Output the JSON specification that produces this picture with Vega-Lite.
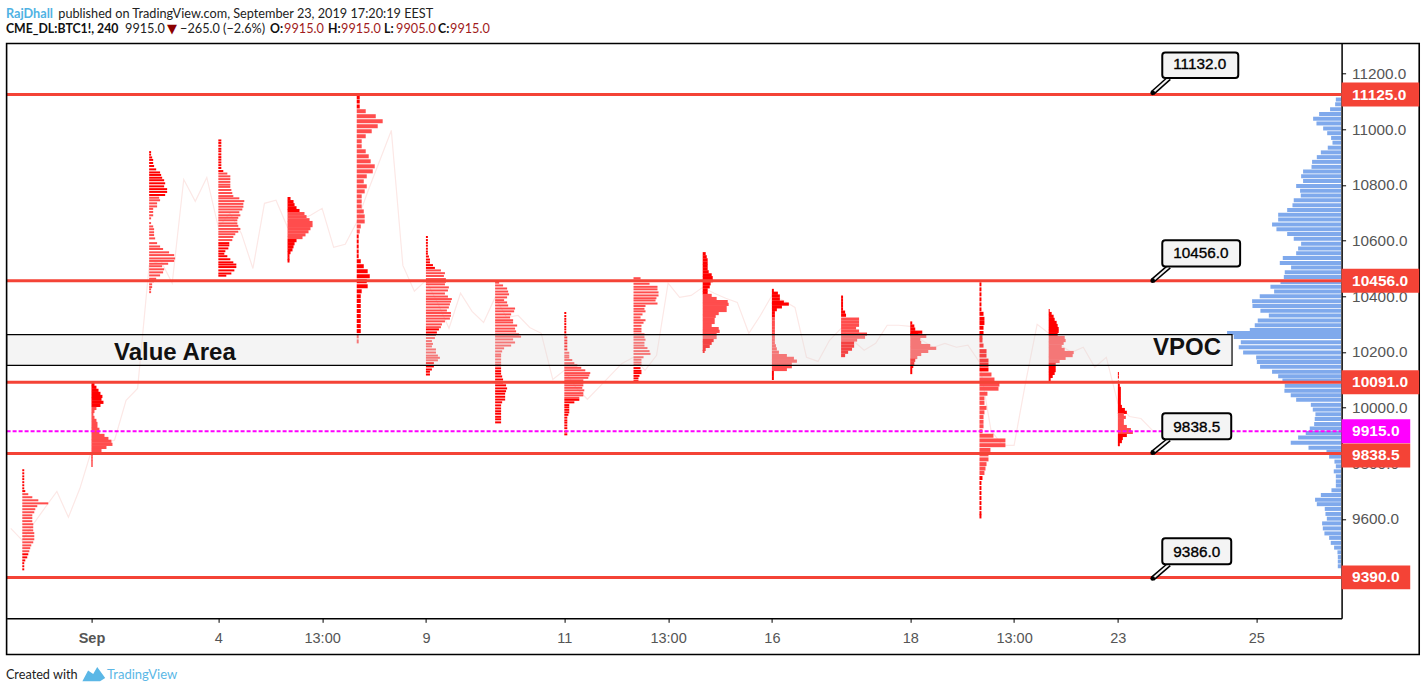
{
"$schema":"https://vega.github.io/schema/vega-lite/v6.json",
"width":1335,"height":575,
"autosize":{"type":"none"},
"padding":{"left":6.6,"top":43.3,"right":84.4,"bottom":72.7},
"background":"#ffffff",
"config":{"view":{"stroke":null}},
"datasets":{
"path":[{"bar":-7,"price":9566},{"bar":-6,"price":9523},{"bar":-5,"price":9584},{"bar":-4,"price":9642},{"bar":-3,"price":9699},{"bar":-2,"price":9606},{"bar":-1,"price":9710},{"bar":0,"price":9846},{"bar":1,"price":9872},{"bar":2,"price":9883},{"bar":3,"price":10026},{"bar":4,"price":10069},{"bar":5,"price":10511},{"bar":6,"price":10529},{"bar":7,"price":10447},{"bar":8,"price":10820},{"bar":9,"price":10741},{"bar":10,"price":10827},{"bar":11,"price":10648},{"bar":12,"price":10698},{"bar":13,"price":10626},{"bar":14,"price":10500},{"bar":15,"price":10734},{"bar":16,"price":10745},{"bar":17,"price":10648},{"bar":18,"price":10673},{"bar":19,"price":10691},{"bar":20,"price":10716},{"bar":21,"price":10576},{"bar":22,"price":10587},{"bar":23,"price":10666},{"bar":24,"price":10781},{"bar":25,"price":10888},{"bar":26,"price":10996},{"bar":27,"price":10511},{"bar":28,"price":10418},{"bar":29,"price":10457},{"bar":30,"price":10378},{"bar":31,"price":10285},{"bar":32,"price":10411},{"bar":33,"price":10346},{"bar":34,"price":10306},{"bar":35,"price":10396},{"bar":36,"price":10324},{"bar":37,"price":10331},{"bar":38,"price":10288},{"bar":39,"price":10267},{"bar":40,"price":10101},{"bar":41,"price":10134},{"bar":42,"price":10073},{"bar":43,"price":10030},{"bar":44,"price":10073},{"bar":45,"price":10116},{"bar":46,"price":10159},{"bar":47,"price":10181},{"bar":48,"price":10134},{"bar":49,"price":10188},{"bar":50,"price":10447},{"bar":51,"price":10396},{"bar":52,"price":10403},{"bar":53,"price":10432},{"bar":54,"price":10411},{"bar":55,"price":10393},{"bar":56,"price":10378},{"bar":57,"price":10267},{"bar":58,"price":10331},{"bar":59,"price":10403},{"bar":60,"price":10385},{"bar":61,"price":10360},{"bar":62,"price":10181},{"bar":63,"price":10166},{"bar":64,"price":10242},{"bar":65,"price":10285},{"bar":66,"price":10242},{"bar":67,"price":10206},{"bar":68,"price":10231},{"bar":69,"price":10296},{"bar":70,"price":10296},{"bar":71,"price":10292},{"bar":72,"price":10242},{"bar":73,"price":10217},{"bar":74,"price":10231},{"bar":75,"price":10217},{"bar":76,"price":10224},{"bar":77,"price":10163},{"bar":78,"price":9918},{"bar":79,"price":9864},{"bar":80,"price":9864},{"bar":81,"price":10091},{"bar":82,"price":10299},{"bar":83,"price":10267},{"bar":84,"price":10224},{"bar":85,"price":10199},{"bar":86,"price":10217},{"bar":87,"price":10145},{"bar":88,"price":10181},{"bar":89,"price":10015},{"bar":90,"price":9968},{"bar":91,"price":9961},{"bar":92,"price":9918}],
"thin":[
{"bar":-6,"to":-5.83,"price":9775},{"bar":-6,"to":-5.83,"price":9764},{"bar":-6,"to":-5.83,"price":9753},{"bar":-6,"to":-5.83,"price":9743},{"bar":-6,"to":-5.83,"price":9732},{"bar":-6,"to":-5.83,"price":9721},{"bar":-6,"to":-5.83,"price":9710},{"bar":-6,"to":-5.74,"price":9700},{"bar":-6,"to":-5.48,"price":9689,"va":1},{"bar":-6,"to":-5.13,"price":9678,"va":1},{"bar":-6,"to":-4.61,"price":9667,"va":1},{"bar":-6,"to":-3.75,"price":9656,"va":1},{"bar":-6,"to":-4.7,"price":9646,"va":1},{"bar":-6,"to":-4.87,"price":9635,"va":1},{"bar":-6,"to":-4.96,"price":9624,"va":1},{"bar":-6,"to":-5.13,"price":9613,"va":1},{"bar":-6,"to":-5.13,"price":9603,"va":1},{"bar":-6,"to":-5.13,"price":9592,"va":1},{"bar":-6,"to":-5.05,"price":9581,"va":1},{"bar":-6,"to":-5.05,"price":9570,"va":1},{"bar":-6,"to":-5.05,"price":9559,"va":1},{"bar":-6,"to":-4.96,"price":9549,"va":1},{"bar":-6,"to":-4.96,"price":9538,"va":1},{"bar":-6,"to":-4.96,"price":9527,"va":1},{"bar":-6,"to":-5.05,"price":9516,"va":1},{"bar":-6,"to":-5.22,"price":9505,"va":1},{"bar":-6,"to":-5.31,"price":9495,"va":1},{"bar":-6,"to":-5.39,"price":9484,"va":1},{"bar":-6,"to":-5.48,"price":9473},{"bar":-6,"to":-5.57,"price":9462},{"bar":-6,"to":-5.74,"price":9451},{"bar":-6,"to":-5.83,"price":9441},{"bar":-6,"to":-5.83,"price":9430},{"bar":-6,"to":-5.83,"price":9419},
{"bar":5,"to":5.17,"price":10918},{"bar":5,"to":5.17,"price":10909},{"bar":5,"to":5.26,"price":10899},{"bar":5,"to":5.35,"price":10890},{"bar":5,"to":5.35,"price":10879},{"bar":5,"to":5.43,"price":10868},{"bar":5,"to":5.61,"price":10856},{"bar":5,"to":5.95,"price":10845},{"bar":5,"to":6.04,"price":10836},{"bar":5,"to":6.13,"price":10826},{"bar":5,"to":6.3,"price":10817},{"bar":5,"to":6.39,"price":10806},{"bar":5,"to":6.3,"price":10795},{"bar":5,"to":6.56,"price":10785},{"bar":5,"to":6.56,"price":10775},{"bar":5,"to":6.39,"price":10764},{"bar":5,"to":5.87,"price":10754,"va":1},{"bar":5,"to":5.95,"price":10745,"va":1},{"bar":5,"to":5.69,"price":10734,"va":1},{"bar":5,"to":5.69,"price":10723,"va":1},{"bar":5,"to":5.35,"price":10714,"va":1},{"bar":5,"to":5.35,"price":10703,"va":1},{"bar":5,"to":5.35,"price":10691,"va":1},{"bar":5,"to":5.17,"price":10680,"va":1},{"bar":5,"to":5.17,"price":10663,"va":1},{"bar":5,"to":5.35,"price":10651,"va":1},{"bar":5,"to":5.43,"price":10641,"va":1},{"bar":5,"to":5.43,"price":10630,"va":1},{"bar":5,"to":5.43,"price":10620,"va":1},{"bar":5,"to":5.52,"price":10608,"va":1},{"bar":5,"to":5.69,"price":10591,"va":1},{"bar":5,"to":5.95,"price":10579,"va":1},{"bar":5,"to":6.21,"price":10570,"va":1},{"bar":5,"to":6.73,"price":10558,"va":1},{"bar":5,"to":7.17,"price":10548,"va":1},{"bar":5,"to":7.25,"price":10536,"va":1},{"bar":5,"to":7.17,"price":10527,"va":1},{"bar":5,"to":6.65,"price":10517,"va":1},{"bar":5,"to":6.13,"price":10508,"va":1},{"bar":5,"to":6.3,"price":10497,"va":1},{"bar":5,"to":6.21,"price":10486,"va":1},{"bar":5,"to":5.95,"price":10475,"va":1},{"bar":5,"to":5.61,"price":10463,"va":1},{"bar":5,"to":5.43,"price":10454,"va":1},{"bar":5,"to":5.26,"price":10443,"va":1},{"bar":5,"to":5.26,"price":10433,"va":1},{"bar":5,"to":5.17,"price":10425,"va":1},{"bar":5,"to":5.17,"price":10415,"va":1},
{"bar":11,"to":11.26,"price":10960},{"bar":11,"to":11.26,"price":10951},{"bar":11,"to":11.26,"price":10941},{"bar":11,"to":11.26,"price":10930},{"bar":11,"to":11.26,"price":10921},{"bar":11,"to":11.26,"price":10910},{"bar":11,"to":11.26,"price":10900},{"bar":11,"to":11.26,"price":10891},{"bar":11,"to":11.26,"price":10881},{"bar":11,"to":11.26,"price":10871},{"bar":11,"to":11.26,"price":10861},{"bar":11,"to":11.43,"price":10850},{"bar":11,"to":11.78,"price":10841,"va":1},{"bar":11,"to":12.04,"price":10831,"va":1},{"bar":11,"to":12.04,"price":10821,"va":1},{"bar":11,"to":12.04,"price":10811,"va":1},{"bar":11,"to":12.04,"price":10801,"va":1},{"bar":11,"to":12.04,"price":10793,"va":1},{"bar":11,"to":12.13,"price":10782,"va":1},{"bar":11,"to":12.21,"price":10771,"va":1},{"bar":11,"to":12.3,"price":10760,"va":1},{"bar":11,"to":12.82,"price":10752,"va":1},{"bar":11,"to":13.25,"price":10742,"va":1},{"bar":11,"to":13.17,"price":10732,"va":1},{"bar":11,"to":13.17,"price":10722,"va":1},{"bar":11,"to":13.08,"price":10712,"va":1},{"bar":11,"to":12.82,"price":10702,"va":1},{"bar":11,"to":12.91,"price":10691,"va":1},{"bar":11,"to":12.73,"price":10682,"va":1},{"bar":11,"to":12.65,"price":10673,"va":1},{"bar":11,"to":12.65,"price":10662,"va":1},{"bar":11,"to":12.73,"price":10653,"va":1},{"bar":11,"to":12.91,"price":10642,"va":1},{"bar":11,"to":12.73,"price":10632,"va":1},{"bar":11,"to":12.47,"price":10623,"va":1},{"bar":11,"to":12.3,"price":10613,"va":1},{"bar":11,"to":12.21,"price":10602,"va":1},{"bar":11,"to":11.95,"price":10591},{"bar":11,"to":11.95,"price":10583},{"bar":11,"to":11.87,"price":10572},{"bar":11,"to":11.61,"price":10562},{"bar":11,"to":11.52,"price":10553},{"bar":11,"to":11.78,"price":10544},{"bar":11,"to":12.04,"price":10533},{"bar":11,"to":12.3,"price":10522},{"bar":11,"to":12.56,"price":10514},{"bar":11,"to":12.56,"price":10505},{"bar":11,"to":12.39,"price":10493},{"bar":11,"to":12.13,"price":10482},{"bar":11,"to":11.69,"price":10474},
{"bar":29,"to":29.17,"price":10613},{"bar":29,"to":29.17,"price":10602},{"bar":29,"to":29.17,"price":10592},{"bar":29,"to":29.17,"price":10582},{"bar":29,"to":29.17,"price":10571},{"bar":29,"to":29.17,"price":10561},{"bar":29,"to":29.17,"price":10553},{"bar":29,"to":29.26,"price":10543},{"bar":29,"to":29.35,"price":10532},{"bar":29,"to":29.35,"price":10522},{"bar":29,"to":29.61,"price":10512},{"bar":29,"to":29.78,"price":10502},{"bar":29,"to":30.3,"price":10493,"va":1},{"bar":29,"to":30.65,"price":10483,"va":1},{"bar":29,"to":30.56,"price":10473,"va":1},{"bar":29,"to":30.73,"price":10462,"va":1},{"bar":29,"to":30.73,"price":10452,"va":1},{"bar":29,"to":30.65,"price":10443,"va":1},{"bar":29,"to":30.99,"price":10432,"va":1},{"bar":29,"to":30.91,"price":10421,"va":1},{"bar":29,"to":30.65,"price":10410,"va":1},{"bar":29,"to":30.91,"price":10399,"va":1},{"bar":29,"to":31.25,"price":10390,"va":1},{"bar":29,"to":31.17,"price":10381,"va":1},{"bar":29,"to":31.08,"price":10371,"va":1},{"bar":29,"to":30.99,"price":10360,"va":1},{"bar":29,"to":30.82,"price":10349,"va":1},{"bar":29,"to":31.17,"price":10340,"va":1},{"bar":29,"to":31.17,"price":10330,"va":1},{"bar":29,"to":31.08,"price":10320,"va":1},{"bar":29,"to":30.65,"price":10310,"va":1},{"bar":29,"to":30.39,"price":10299,"va":1},{"bar":29,"to":30.3,"price":10289,"va":1},{"bar":29,"to":30.13,"price":10281},{"bar":29,"to":29.95,"price":10270},{"bar":29,"to":29.87,"price":10261,"va":1},{"bar":29,"to":29.78,"price":10250,"va":1},{"bar":29,"to":29.52,"price":10239,"va":1},{"bar":29,"to":29.61,"price":10229,"va":1},{"bar":29,"to":29.52,"price":10220,"va":1},{"bar":29,"to":29.87,"price":10209,"va":1},{"bar":29,"to":29.87,"price":10198,"va":1},{"bar":29,"to":30.04,"price":10187,"va":1},{"bar":29,"to":30.21,"price":10179,"va":1},{"bar":29,"to":30.04,"price":10170,"va":1},{"bar":29,"to":29.69,"price":10160},{"bar":29,"to":29.69,"price":10148},{"bar":29,"to":29.52,"price":10137},{"bar":29,"to":29.35,"price":10129},{"bar":29,"to":29.35,"price":10119},
{"bar":35,"to":35.35,"price":10449,"va":1},{"bar":35,"to":35.69,"price":10439,"va":1},{"bar":35,"to":36.04,"price":10428,"va":1},{"bar":35,"to":36.13,"price":10417,"va":1},{"bar":35,"to":36.21,"price":10407,"va":1},{"bar":35,"to":36.04,"price":10396,"va":1},{"bar":35,"to":35.78,"price":10386,"va":1},{"bar":35,"to":36.04,"price":10378,"va":1},{"bar":35,"to":36.13,"price":10367,"va":1},{"bar":35,"to":36.73,"price":10356,"va":1},{"bar":35,"to":36.65,"price":10346,"va":1},{"bar":35,"to":36.39,"price":10335,"va":1},{"bar":35,"to":36.3,"price":10324,"va":1},{"bar":35,"to":36.56,"price":10314,"va":1},{"bar":35,"to":36.56,"price":10306,"va":1},{"bar":35,"to":36.91,"price":10295,"va":1},{"bar":35,"to":36.73,"price":10284,"va":1},{"bar":35,"to":36.82,"price":10274,"va":1},{"bar":35,"to":37.08,"price":10263,"va":1},{"bar":35,"to":37.25,"price":10255,"va":1},{"bar":35,"to":36.56,"price":10245,"va":1},{"bar":35,"to":36.73,"price":10234,"va":1},{"bar":35,"to":36.39,"price":10223,"va":1},{"bar":35,"to":35.78,"price":10213,"va":1},{"bar":35,"to":35.61,"price":10202,"va":1},{"bar":35,"to":35.52,"price":10191,"va":1},{"bar":35,"to":35.52,"price":10184,"va":1},{"bar":35,"to":35.52,"price":10173,"va":1},{"bar":35,"to":35.52,"price":10162,"va":1},{"bar":35,"to":35.52,"price":10152},{"bar":35,"to":35.52,"price":10141},{"bar":35,"to":35.52,"price":10131},{"bar":35,"to":35.52,"price":10122},{"bar":35,"to":35.61,"price":10112},{"bar":35,"to":35.69,"price":10101},{"bar":35,"to":35.69,"price":10090},{"bar":35,"to":35.95,"price":10080},{"bar":35,"to":36.04,"price":10069},{"bar":35,"to":35.95,"price":10059},{"bar":35,"to":35.87,"price":10050},{"bar":35,"to":35.87,"price":10039},{"bar":35,"to":35.87,"price":10029},{"bar":35,"to":35.61,"price":10019},{"bar":35,"to":35.52,"price":10008},{"bar":35,"to":35.52,"price":9997},{"bar":35,"to":35.52,"price":9987},{"bar":35,"to":35.52,"price":9978},{"bar":35,"to":35.52,"price":9967},{"bar":35,"to":35.52,"price":9958},{"bar":35,"to":35.52,"price":9947},
{"bar":41,"to":41.17,"price":10340},{"bar":41,"to":41.17,"price":10329},{"bar":41,"to":41.17,"price":10319},{"bar":41,"to":41.17,"price":10310},{"bar":41,"to":41.17,"price":10300},{"bar":41,"to":41.17,"price":10290},{"bar":41,"to":41.17,"price":10281},{"bar":41,"to":41.17,"price":10271},{"bar":41,"to":41.17,"price":10262},{"bar":41,"to":41.26,"price":10252},{"bar":41,"to":41.26,"price":10241},{"bar":41,"to":41.26,"price":10231},{"bar":41,"to":41.26,"price":10220},{"bar":41,"to":41.26,"price":10209},{"bar":41,"to":41.43,"price":10197,"va":1},{"bar":41,"to":41.43,"price":10187,"va":1},{"bar":41,"to":41.43,"price":10180,"va":1},{"bar":41,"to":41.69,"price":10171,"va":1},{"bar":41,"to":41.87,"price":10160,"va":1},{"bar":41,"to":42.13,"price":10152,"va":1},{"bar":41,"to":42.47,"price":10143,"va":1},{"bar":41,"to":42.82,"price":10134,"va":1},{"bar":41,"to":43.25,"price":10124,"va":1},{"bar":41,"to":43.17,"price":10116,"va":1},{"bar":41,"to":43.08,"price":10107,"va":1},{"bar":41,"to":42.65,"price":10098,"va":1},{"bar":41,"to":42.65,"price":10088,"va":1},{"bar":41,"to":42.65,"price":10080,"va":1},{"bar":41,"to":42.56,"price":10071,"va":1},{"bar":41,"to":42.73,"price":10062,"va":1},{"bar":41,"to":42.65,"price":10052,"va":1},{"bar":41,"to":42.65,"price":10044,"va":1},{"bar":41,"to":42.3,"price":10035,"va":1},{"bar":41,"to":42.3,"price":10028},{"bar":41,"to":41.87,"price":10019},{"bar":41,"to":41.43,"price":10009},{"bar":41,"to":41.43,"price":10001},{"bar":41,"to":41.43,"price":9992},{"bar":41,"to":41.43,"price":9983},{"bar":41,"to":41.35,"price":9974},{"bar":41,"to":41.26,"price":9964},{"bar":41,"to":41.26,"price":9954},{"bar":41,"to":41.26,"price":9946},{"bar":41,"to":41.26,"price":9936},{"bar":41,"to":41.26,"price":9926},{"bar":41,"to":41.26,"price":9914},{"bar":41,"to":41.26,"price":9904},
{"bar":47,"to":47.61,"price":10465,"va":1},{"bar":47,"to":47.61,"price":10456,"va":1},{"bar":47,"to":48.39,"price":10445,"va":1},{"bar":47,"to":49.08,"price":10434,"va":1},{"bar":47,"to":49.08,"price":10425,"va":1},{"bar":47,"to":49.17,"price":10414,"va":1},{"bar":47,"to":49.17,"price":10403,"va":1},{"bar":47,"to":48.99,"price":10393,"va":1},{"bar":47,"to":48.91,"price":10385,"va":1},{"bar":47,"to":49.08,"price":10374,"va":1},{"bar":47,"to":48.04,"price":10365,"va":1},{"bar":47,"to":47.95,"price":10355,"va":1},{"bar":47,"to":48.04,"price":10346,"va":1},{"bar":47,"to":47.78,"price":10335,"va":1},{"bar":47,"to":47.61,"price":10324,"va":1},{"bar":47,"to":48.04,"price":10314,"va":1},{"bar":47,"to":47.87,"price":10305,"va":1},{"bar":47,"to":47.69,"price":10294,"va":1},{"bar":47,"to":47.69,"price":10283,"va":1},{"bar":47,"to":47.69,"price":10274,"va":1},{"bar":47,"to":47.95,"price":10263,"va":1},{"bar":47,"to":47.95,"price":10253,"va":1},{"bar":47,"to":48.04,"price":10244,"va":1},{"bar":47,"to":47.95,"price":10233,"va":1},{"bar":47,"to":47.95,"price":10223,"va":1},{"bar":47,"to":48.21,"price":10214,"va":1},{"bar":47,"to":48.39,"price":10203,"va":1},{"bar":47,"to":48.47,"price":10193,"va":1},{"bar":47,"to":47.87,"price":10181,"va":1},{"bar":47,"to":47.69,"price":10172,"va":1},{"bar":47,"to":47.69,"price":10162,"va":1},{"bar":47,"to":47.69,"price":10153,"va":1},{"bar":47,"to":47.61,"price":10142},{"bar":47,"to":47.69,"price":10132},{"bar":47,"to":47.69,"price":10124},{"bar":47,"to":47.52,"price":10114},{"bar":47,"to":47.43,"price":10105},{"bar":47,"to":47.43,"price":10095}
],
"dense":[
{"bar":0,"to":0.26,"price":10083},{"bar":0,"to":0.43,"price":10073},{"bar":0,"to":0.61,"price":10062},{"bar":0,"to":0.78,"price":10051},{"bar":0,"to":0.95,"price":10040},{"bar":0,"to":0.87,"price":10030},{"bar":0,"to":1.04,"price":10019},{"bar":0,"to":0.78,"price":10008},{"bar":0,"to":0.43,"price":9997,"va":1},{"bar":0,"to":0.26,"price":9986,"va":1},{"bar":0,"to":0.17,"price":9976,"va":1},{"bar":0,"to":0.26,"price":9965,"va":1},{"bar":0,"to":0.43,"price":9954,"va":1},{"bar":0,"to":0.52,"price":9943,"va":1},{"bar":0,"to":0.52,"price":9932,"va":1},{"bar":0,"to":0.69,"price":9922,"va":1},{"bar":0,"to":0.69,"price":9911,"va":1},{"bar":0,"to":1.13,"price":9900,"va":1},{"bar":0,"to":1.47,"price":9889,"va":1},{"bar":0,"to":1.73,"price":9879,"va":1},{"bar":0,"to":1.82,"price":9868,"va":1},{"bar":0,"to":1.3,"price":9857,"va":1},{"bar":0,"to":0.87,"price":9846,"va":1},{"bar":0,"to":0.09,"price":9835},{"bar":0,"to":0.09,"price":9825},{"bar":0,"to":0.09,"price":9814},{"bar":0,"to":0.09,"price":9803},{"bar":0,"to":0.09,"price":9792},
{"bar":17,"to":17.26,"price":10751},{"bar":17,"to":17.52,"price":10740},{"bar":17,"to":17.61,"price":10729},{"bar":17,"to":17.78,"price":10718},{"bar":17,"to":18.04,"price":10708},{"bar":17,"to":18.47,"price":10697,"va":1},{"bar":17,"to":18.65,"price":10686,"va":1},{"bar":17,"to":18.91,"price":10675,"va":1},{"bar":17,"to":19.17,"price":10665,"va":1},{"bar":17,"to":19.17,"price":10654,"va":1},{"bar":17,"to":18.99,"price":10643,"va":1},{"bar":17,"to":18.82,"price":10632,"va":1},{"bar":17,"to":18.56,"price":10621,"va":1},{"bar":17,"to":18.3,"price":10611,"va":1},{"bar":17,"to":17.78,"price":10600},{"bar":17,"to":17.61,"price":10589},{"bar":17,"to":17.52,"price":10578},{"bar":17,"to":17.43,"price":10567},{"bar":17,"to":17.26,"price":10557},{"bar":17,"to":17.17,"price":10546},{"bar":17,"to":17.17,"price":10535},{"bar":17,"to":17.17,"price":10527},
{"bar":53,"to":53.26,"price":10553},{"bar":53,"to":53.35,"price":10542},{"bar":53,"to":53.43,"price":10531},{"bar":53,"to":53.43,"price":10520},{"bar":53,"to":53.43,"price":10510},{"bar":53,"to":53.43,"price":10499},{"bar":53,"to":53.52,"price":10488},{"bar":53,"to":53.78,"price":10477},{"bar":53,"to":53.87,"price":10467},{"bar":53,"to":53.87,"price":10456},{"bar":53,"to":53.69,"price":10445},{"bar":53,"to":53.61,"price":10434},{"bar":53,"to":53.43,"price":10423},{"bar":53,"to":53.43,"price":10413},{"bar":53,"to":53.78,"price":10403,"va":1},{"bar":53,"to":54.21,"price":10392,"va":1},{"bar":53,"to":55.17,"price":10381,"va":1},{"bar":53,"to":55.25,"price":10371,"va":1},{"bar":53,"to":55.08,"price":10360,"va":1},{"bar":53,"to":55.08,"price":10349,"va":1},{"bar":53,"to":54.39,"price":10338,"va":1},{"bar":53,"to":54.13,"price":10328,"va":1},{"bar":53,"to":54.04,"price":10317,"va":1},{"bar":53,"to":54.04,"price":10306,"va":1},{"bar":53,"to":53.78,"price":10295,"va":1},{"bar":53,"to":54.39,"price":10284,"va":1},{"bar":53,"to":54.47,"price":10274,"va":1},{"bar":53,"to":54.21,"price":10263,"va":1},{"bar":53,"to":54.21,"price":10252,"va":1},{"bar":53,"to":53.95,"price":10241},{"bar":53,"to":53.78,"price":10231},{"bar":53,"to":53.61,"price":10220},{"bar":53,"to":53.26,"price":10209},{"bar":53,"to":53.17,"price":10202},
{"bar":59,"to":59.17,"price":10421},{"bar":59,"to":59.52,"price":10411},{"bar":59,"to":59.69,"price":10401},{"bar":59,"to":59.69,"price":10390},{"bar":59,"to":60.04,"price":10379},{"bar":59,"to":60.47,"price":10372},{"bar":59,"to":59.87,"price":10362},{"bar":59,"to":59.43,"price":10352},{"bar":59,"to":59.26,"price":10341},{"bar":59,"to":59.26,"price":10330},{"bar":59,"to":59.26,"price":10319,"va":1},{"bar":59,"to":59.26,"price":10308,"va":1},{"bar":59,"to":59.26,"price":10298,"va":1},{"bar":59,"to":59.26,"price":10287,"va":1},{"bar":59,"to":59.26,"price":10276,"va":1},{"bar":59,"to":59.26,"price":10265,"va":1},{"bar":59,"to":59.26,"price":10255,"va":1},{"bar":59,"to":59.26,"price":10244,"va":1},{"bar":59,"to":59.26,"price":10233,"va":1},{"bar":59,"to":59.35,"price":10222,"va":1},{"bar":59,"to":59.43,"price":10211,"va":1},{"bar":59,"to":59.61,"price":10199,"va":1},{"bar":59,"to":60.3,"price":10187,"va":1},{"bar":59,"to":60.91,"price":10177,"va":1},{"bar":59,"to":61.17,"price":10167,"va":1},{"bar":59,"to":60.73,"price":10158,"va":1},{"bar":59,"to":60.73,"price":10147,"va":1},{"bar":59,"to":60.3,"price":10137,"va":1},{"bar":59,"to":59.17,"price":10126},{"bar":59,"to":59.17,"price":10116},{"bar":59,"to":59.17,"price":10105},
{"bar":65,"to":65.17,"price":10397},{"bar":65,"to":65.17,"price":10386},{"bar":65,"to":65.17,"price":10375},{"bar":65,"to":65.17,"price":10365},{"bar":65,"to":65.17,"price":10354},{"bar":65,"to":65.35,"price":10343},{"bar":65,"to":65.43,"price":10332},{"bar":65,"to":66.56,"price":10318,"va":1},{"bar":65,"to":66.56,"price":10307,"va":1},{"bar":65,"to":66.56,"price":10296,"va":1},{"bar":65,"to":66.3,"price":10286,"va":1},{"bar":65,"to":66.56,"price":10275,"va":1},{"bar":65,"to":67.25,"price":10264,"va":1},{"bar":65,"to":67.08,"price":10253,"va":1},{"bar":65,"to":66.39,"price":10243,"va":1},{"bar":65,"to":66.13,"price":10232},{"bar":65,"to":66.13,"price":10221},{"bar":65,"to":65.95,"price":10210},{"bar":65,"to":65.61,"price":10199},{"bar":65,"to":65.35,"price":10187},
{"bar":71,"to":71.17,"price":10304},{"bar":71,"to":71.35,"price":10293},{"bar":71,"to":71.43,"price":10282},{"bar":71,"to":72.04,"price":10271},{"bar":71,"to":71.69,"price":10262},{"bar":71,"to":72.39,"price":10256,"va":1},{"bar":71,"to":71.87,"price":10245,"va":1},{"bar":71,"to":71.95,"price":10234,"va":1},{"bar":71,"to":72.73,"price":10223,"va":1},{"bar":71,"to":73.25,"price":10213,"va":1},{"bar":71,"to":72.56,"price":10202,"va":1},{"bar":71,"to":71.95,"price":10191,"va":1},{"bar":71,"to":71.61,"price":10180,"va":1},{"bar":71,"to":71.43,"price":10170},{"bar":71,"to":71.35,"price":10159},{"bar":71,"to":71.26,"price":10148},{"bar":71,"to":71.17,"price":10137},{"bar":71,"to":71.17,"price":10126},
{"bar":83,"to":83.09,"price":10349},{"bar":83,"to":83.26,"price":10338},{"bar":83,"to":83.43,"price":10328},{"bar":83,"to":83.52,"price":10317},{"bar":83,"to":83.69,"price":10306},{"bar":83,"to":83.78,"price":10295},{"bar":83,"to":83.87,"price":10284},{"bar":83,"to":83.87,"price":10274},{"bar":83,"to":83.78,"price":10263},{"bar":83,"to":84.39,"price":10252,"va":1},{"bar":83,"to":84.47,"price":10241,"va":1},{"bar":83,"to":84.3,"price":10231,"va":1},{"bar":83,"to":84.13,"price":10220,"va":1},{"bar":83,"to":84.39,"price":10209,"va":1},{"bar":83,"to":85.17,"price":10198,"va":1},{"bar":83,"to":85.08,"price":10187,"va":1},{"bar":83,"to":84.47,"price":10177,"va":1},{"bar":83,"to":83.95,"price":10166,"va":1},{"bar":83,"to":83.61,"price":10155},{"bar":83,"to":83.61,"price":10144},{"bar":83,"to":83.61,"price":10133},{"bar":83,"to":83.52,"price":10123},{"bar":83,"to":83.35,"price":10112},{"bar":83,"to":83.17,"price":10101},
{"bar":89,"to":89.09,"price":10122},{"bar":89,"to":89.09,"price":10110},{"bar":89,"to":89.09,"price":10092},{"bar":89,"to":89.17,"price":10080},{"bar":89,"to":89.26,"price":10069},{"bar":89,"to":89.26,"price":10058},{"bar":89,"to":89.26,"price":10047},{"bar":89,"to":89.26,"price":10036},{"bar":89,"to":89.26,"price":10026},{"bar":89,"to":89.26,"price":10015},{"bar":89,"to":89.35,"price":10004},{"bar":89,"to":89.61,"price":9993},{"bar":89,"to":89.78,"price":9983},{"bar":89,"to":89.52,"price":9975,"va":1},{"bar":89,"to":89.69,"price":9965,"va":1},{"bar":89,"to":89.52,"price":9954,"va":1},{"bar":89,"to":89.52,"price":9943,"va":1},{"bar":89,"to":89.78,"price":9932,"va":1},{"bar":89,"to":90.13,"price":9921,"va":1},{"bar":89,"to":90.3,"price":9911,"va":1},{"bar":89,"to":89.78,"price":9900},{"bar":89,"to":89.43,"price":9889},{"bar":89,"to":89.35,"price":9878},{"bar":89,"to":89.17,"price":9867}
],
"wide":[
{"bar":23,"to":23.26,"price":11116},{"bar":23,"to":23.26,"price":11100},{"bar":23,"to":23.26,"price":11082},{"bar":23,"to":23.78,"price":11065,"va":1},{"bar":23,"to":24.65,"price":11047,"va":1},{"bar":23,"to":25.25,"price":11029,"va":1},{"bar":23,"to":24.82,"price":11011,"va":1},{"bar":23,"to":24.3,"price":10993,"va":1},{"bar":23,"to":23.78,"price":10975,"va":1},{"bar":23,"to":23.43,"price":10957,"va":1},{"bar":23,"to":23.43,"price":10939,"va":1},{"bar":23,"to":23.78,"price":10921,"va":1},{"bar":23,"to":24.04,"price":10903,"va":1},{"bar":23,"to":24.21,"price":10885,"va":1},{"bar":23,"to":24.56,"price":10867,"va":1},{"bar":23,"to":24.39,"price":10849,"va":1},{"bar":23,"to":23.87,"price":10831,"va":1},{"bar":23,"to":23.61,"price":10813,"va":1},{"bar":23,"to":23.87,"price":10795,"va":1},{"bar":23,"to":23.69,"price":10777,"va":1},{"bar":23,"to":23.43,"price":10759,"va":1},{"bar":23,"to":23.43,"price":10741,"va":1},{"bar":23,"to":23.43,"price":10723,"va":1},{"bar":23,"to":23.61,"price":10705,"va":1},{"bar":23,"to":23.69,"price":10687,"va":1},{"bar":23,"to":23.69,"price":10669,"va":1},{"bar":23,"to":23.35,"price":10651,"va":1},{"bar":23,"to":23.26,"price":10633,"va":1},{"bar":23,"to":23.17,"price":10615},{"bar":23,"to":23.17,"price":10597},{"bar":23,"to":23.17,"price":10579},{"bar":23,"to":23.17,"price":10561},{"bar":23,"to":23.17,"price":10544},{"bar":23,"to":23.35,"price":10526},{"bar":23,"to":23.61,"price":10508},{"bar":23,"to":23.95,"price":10490},{"bar":23,"to":24.13,"price":10472},{"bar":23,"to":23.87,"price":10454},{"bar":23,"to":23.95,"price":10436},{"bar":23,"to":23.43,"price":10418},{"bar":23,"to":23.35,"price":10400},{"bar":23,"to":23.35,"price":10383},{"bar":23,"to":23.35,"price":10365},{"bar":23,"to":23.35,"price":10347},{"bar":23,"to":23.35,"price":10329},{"bar":23,"to":23.35,"price":10311},{"bar":23,"to":23.35,"price":10293},{"bar":23,"to":23.35,"price":10275},{"bar":23,"to":23.17,"price":10256,"va":1},{"bar":23,"to":23.17,"price":10238,"va":1},
{"bar":77,"to":77.17,"price":10443},{"bar":77,"to":77.17,"price":10425},{"bar":77,"to":77.17,"price":10407},{"bar":77,"to":77.17,"price":10389},{"bar":77,"to":77.17,"price":10371},{"bar":77,"to":77.17,"price":10353},{"bar":77,"to":77.35,"price":10337},{"bar":77,"to":77.43,"price":10319},{"bar":77,"to":77.43,"price":10304},{"bar":77,"to":77.35,"price":10287},{"bar":77,"to":77.35,"price":10268},{"bar":77,"to":77.26,"price":10253},{"bar":77,"to":77.26,"price":10241},{"bar":77,"to":77.35,"price":10223},{"bar":77,"to":77.61,"price":10203},{"bar":77,"to":77.61,"price":10187},{"bar":77,"to":77.78,"price":10169},{"bar":77,"to":77.78,"price":10154},{"bar":77,"to":77.78,"price":10137},{"bar":77,"to":78.04,"price":10119,"va":1},{"bar":77,"to":78.3,"price":10101,"va":1},{"bar":77,"to":78.73,"price":10083,"va":1},{"bar":77,"to":78.65,"price":10068,"va":1},{"bar":77,"to":77.69,"price":10050,"va":1},{"bar":77,"to":77.43,"price":10033,"va":1},{"bar":77,"to":77.43,"price":10017,"va":1},{"bar":77,"to":77.61,"price":9999,"va":1},{"bar":77,"to":77.43,"price":9983,"va":1},{"bar":77,"to":77.35,"price":9966,"va":1},{"bar":77,"to":77.35,"price":9949,"va":1},{"bar":77,"to":77.35,"price":9933,"va":1},{"bar":77,"to":77.26,"price":9915,"va":1},{"bar":77,"to":78.21,"price":9899,"va":1},{"bar":77,"to":79.25,"price":9882,"va":1},{"bar":77,"to":79.25,"price":9865,"va":1},{"bar":77,"to":77.95,"price":9848,"va":1},{"bar":77,"to":77.78,"price":9832,"va":1},{"bar":77,"to":77.78,"price":9814,"va":1},{"bar":77,"to":77.61,"price":9797,"va":1},{"bar":77,"to":77.52,"price":9781,"va":1},{"bar":77,"to":77.43,"price":9765,"va":1},{"bar":77,"to":77.26,"price":9747},{"bar":77,"to":77.17,"price":9729},{"bar":77,"to":77.17,"price":9711},{"bar":77,"to":77.17,"price":9693},{"bar":77,"to":77.17,"price":9675},{"bar":77,"to":77.17,"price":9657},{"bar":77,"to":77.17,"price":9639},{"bar":77,"to":77.17,"price":9621},{"bar":77,"to":77.17,"price":9609}
],
"session":[
{"bar":107.9,"price":11107},{"bar":107.84,"price":11090},{"bar":107.4,"price":11072},{"bar":106.45,"price":11055},{"bar":105.93,"price":11038},{"bar":106.22,"price":11021},{"bar":106.8,"price":11003},{"bar":107.15,"price":10986},{"bar":107.49,"price":10969},{"bar":107.61,"price":10952},{"bar":107.2,"price":10934},{"bar":106.6,"price":10917},{"bar":106.25,"price":10900},{"bar":105.84,"price":10883},{"bar":105.79,"price":10865},{"bar":105.06,"price":10848},{"bar":104.89,"price":10831},{"bar":105.06,"price":10814},{"bar":104.46,"price":10796},{"bar":104.8,"price":10779},{"bar":104.86,"price":10762},{"bar":104.25,"price":10745},{"bar":104.14,"price":10727},{"bar":103.68,"price":10710},{"bar":102.9,"price":10693},{"bar":102.9,"price":10676},{"bar":102.37,"price":10658},{"bar":102.75,"price":10641},{"bar":103.68,"price":10624},{"bar":104.25,"price":10607},{"bar":104.89,"price":10589},{"bar":104.63,"price":10572},{"bar":104.46,"price":10555},{"bar":103.3,"price":10538},{"bar":103.04,"price":10520},{"bar":104.02,"price":10503},{"bar":103.47,"price":10486},{"bar":103.39,"price":10469},{"bar":103.1,"price":10451},{"bar":102.23,"price":10434},{"bar":102.55,"price":10417},{"bar":101.3,"price":10400},{"bar":100.64,"price":10382},{"bar":100.67,"price":10365},{"bar":101.36,"price":10348},{"bar":102.09,"price":10331},{"bar":101.13,"price":10313},{"bar":100.87,"price":10296},{"bar":100.44,"price":10279},
{"bar":98.47,"price":10268},{"bar":99.05,"price":10254},{"bar":99.66,"price":10235},{"bar":99.48,"price":10217},{"bar":99.86,"price":10198},{"bar":100.99,"price":10180},{"bar":101.05,"price":10164},{"bar":101.33,"price":10147},{"bar":102.37,"price":10129},{"bar":102.9,"price":10113},{"bar":103.27,"price":10097},{"bar":103.47,"price":10079},{"bar":103.44,"price":10061},{"bar":103.99,"price":10044},{"bar":104.46,"price":10028},{"bar":105.73,"price":10010},{"bar":105.9,"price":9993},{"bar":106.13,"price":9976},{"bar":106.07,"price":9959},{"bar":106.02,"price":9941},{"bar":105.64,"price":9925},{"bar":105.29,"price":9909},{"bar":104.63,"price":9893},{"bar":103.99,"price":9874},{"bar":105.53,"price":9856},{"bar":107.09,"price":9841},{"bar":107.32,"price":9824},{"bar":107.78,"price":9806},{"bar":107.9,"price":9789},{"bar":107.72,"price":9771},{"bar":107.9,"price":9753},{"bar":107.9,"price":9735},{"bar":107.9,"price":9720},{"bar":107.52,"price":9703},{"bar":106.6,"price":9686},{"bar":106.1,"price":9669},{"bar":106.25,"price":9653},{"bar":106.94,"price":9636},{"bar":107,"price":9618},{"bar":107.12,"price":9601},{"bar":106.71,"price":9584},{"bar":106.77,"price":9566},{"bar":106.91,"price":9548},{"bar":107.32,"price":9532},{"bar":107.46,"price":9514},{"bar":107.75,"price":9497},{"bar":108.04,"price":9480},{"bar":108.07,"price":9463},{"bar":108.07,"price":9447},{"bar":108.07,"price":9430}
],
"levels":[{"bar":-7.36,"to":108.4,"price":11125},{"bar":-7.36,"to":108.4,"price":10456},{"bar":-7.36,"to":108.4,"price":10091},{"bar":-7.36,"to":108.4,"price":9835},{"bar":-7.36,"to":108.4,"price":9390}],
"tags":[
{"label":"11132.0","bar":92.85,"to":99.44,"price":11276,"high":11184,"mid":96.1,"textp":11233},
{"label":"10456.0","bar":92.85,"to":99.6,"price":10601,"high":10507,"mid":96.2,"textp":10554},
{"label":"9838.5","bar":92.85,"to":98.83,"price":9980,"high":9886,"mid":95.84,"textp":9932},
{"label":"9386.0","bar":92.85,"to":98.83,"price":9531,"high":9437,"mid":95.84,"textp":9483}],
"tails":[
{"bar":92.02,"to":93.45,"price":11131,"high":11184},
{"bar":92.02,"to":93.45,"price":10456,"high":10507},
{"bar":92.02,"to":93.45,"price":9838,"high":9886},
{"bar":92.02,"to":93.45,"price":9386,"high":9437}],
"prices":[
{"label":"11125.0","bar":108.4,"to":115.13,"price":11168,"high":11082,"mid":11125,"kind":"red"},
{"label":"10456.0","bar":108.4,"to":115.13,"price":10499,"high":10413,"mid":10456,"kind":"red"},
{"label":"10091.0","bar":108.4,"to":115.13,"price":10134,"high":10048,"mid":10091,"kind":"red"},
{"label":"9915.0","bar":108.4,"to":114.35,"price":9958,"high":9872,"mid":9915,"kind":"last"},
{"label":"9838.5","bar":108.4,"to":114.35,"price":9871,"high":9785,"mid":9828,"kind":"red"},
{"label":"9390.0","bar":108.4,"to":114.35,"price":9433,"high":9347,"mid":9390,"kind":"red"}]
},
"encoding":{
"x":{"field":"bar","type":"quantitative","title":null,"scale":{"domain":[-7.36,108.4],"nice":false,"zero":false},
"axis":{"values":[0,11,20,29,41,50,59,71,80,89,101],"grid":false,"title":null,"domainColor":"#000000","domainWidth":1.5,"tickColor":"#000000","tickSize":4,"labelColor":"#555555","labelFont":"Liberation Sans","labelFontSize":14.5,"labelPadding":9,"labelOverlap":false,"labelFlush":false,"labelBound":false,
"labelFontWeight":{"condition":{"test":"datum.value==0","value":"bold"},"value":"normal"},
"labelExpr":"datum.value==0?'Sep':datum.value==11?'4':datum.value==29?'9':datum.value==41?'11':datum.value==59?'16':datum.value==71?'18':datum.value==89?'23':datum.value==101?'25':'13:00'"}},
"y":{"field":"price","type":"quantitative","title":null,"scale":{"domain":[9243,11309],"nice":false,"zero":false},
"axis":{"orient":"right","values":[9600,9800,10000,10200,10400,10600,10800,11000,11200],"grid":false,"title":null,"domainColor":"#000000","domainWidth":1.5,"tickColor":"#000000","tickSize":4,"labelColor":"#555555","labelFont":"Liberation Sans","labelFontSize":15.3,"labelPadding":6,"labelOverlap":false,"labelFlush":false,"labelBound":false,"format":".1f"}}
},
"layer":[
{"data":{"name":"path"},"mark":{"type":"line","stroke":"#fce8e6","strokeWidth":1.2}},
{"data":{"name":"thin"},"mark":{"type":"rule","strokeWidth":2},"encoding":{"x2":{"field":"to"},"color":{"condition":{"test":"datum.va","value":"#ff4d4d"},"value":"#ff0000"}}},
{"data":{"name":"dense"},"mark":{"type":"rule","strokeWidth":3.2},"encoding":{"x2":{"field":"to"},"color":{"condition":{"test":"datum.va","value":"#ff4d4d"},"value":"#ff0000"}}},
{"data":{"name":"wide"},"mark":{"type":"rule","strokeWidth":4},"encoding":{"x2":{"field":"to"},"color":{"condition":{"test":"datum.va","value":"#ff4d4d"},"value":"#ff0000"}}},
{"data":{"name":"session"},"mark":{"type":"rule","strokeWidth":4,"stroke":"#7fa9ec"},"encoding":{"x2":{"datum":108.35}}},
{"data":{"values":[{"bar":-7.36,"to":98.9,"price":10262,"high":10152}]},"mark":{"type":"rect","fill":"#dadada","fillOpacity":0.3,"stroke":"#000000","strokeWidth":1.2},"encoding":{"x2":{"field":"to"},"y2":{"field":"high"}}},
{"data":{"name":"levels"},"mark":{"type":"rule","stroke":"#f44336","strokeWidth":3},"encoding":{"x2":{"field":"to"}}},
{"data":{"values":[{"bar":-7.36,"to":108.4,"price":9915}]},"mark":{"type":"rule","stroke":"#ff00ff","strokeWidth":2,"strokeDash":[4,2]},"encoding":{"x2":{"field":"to"}}},
{"data":{"values":[{"bar":-7.36,"to":115.13,"price":11308.5,"high":9113}]},"mark":{"type":"rect","fill":"transparent","stroke":"#000000","strokeWidth":1.6},"encoding":{"x2":{"field":"to"},"y2":{"field":"high"}}},
{"data":{"values":[{"label":"Value Area","bar":1.95,"price":10198},{"label":"VPOC","bar":92.05,"price":10213}]},"mark":{"type":"text","align":"left","baseline":"middle","font":"Liberation Sans","fontWeight":"bold","fontSize":24,"fill":"#111111"},"encoding":{"text":{"field":"label"}}},
{"data":{"name":"tails"},"mark":{"type":"rule","stroke":"#000000","strokeWidth":5},"encoding":{"x2":{"field":"to"},"y2":{"field":"high"}}},
{"data":{"name":"tails"},"mark":{"type":"rule","stroke":"#f4f4f4","strokeWidth":2},"encoding":{"x2":{"field":"to"},"y2":{"field":"high"}}},
{"data":{"name":"tails"},"mark":{"type":"point","filled":true,"fill":"#000000","size":22,"opacity":1}},
{"data":{"name":"tags"},"mark":{"type":"rect","fill":"#f4f4f4","stroke":"#000000","strokeWidth":2,"cornerRadius":3},"encoding":{"x2":{"field":"to"},"y2":{"field":"high"}}},
{"data":{"name":"tags"},"mark":{"type":"text","align":"center","baseline":"middle","font":"Liberation Sans","fontSize":15.3,"fill":"#000000","stroke":"#000000","strokeWidth":0.35},"encoding":{"x":{"field":"mid","type":"quantitative"},"y":{"field":"textp","type":"quantitative"},"text":{"field":"label"}}},
{"data":{"name":"prices"},"mark":{"type":"rect"},"encoding":{"x2":{"field":"to"},"y2":{"field":"high"},"color":{"condition":{"test":"datum.kind=='last'","value":"#ff00ff"},"value":"#f44336"}}},
{"data":{"name":"prices"},"mark":{"type":"text","align":"left","baseline":"middle","dx":10.5,"font":"Liberation Sans","fontWeight":"bold","fontSize":15.5,"fill":"#ffffff"},"encoding":{"x":{"field":"bar","type":"quantitative"},"y":{"field":"mid","type":"quantitative"},"text":{"field":"label"}}},
{"data":{"values":[{"label":"RajDhall","bar":-7.42,"price":11416}]},"mark":{"type":"text","align":"left","baseline":"middle","font":"Lato","fontWeight":"bold","fontSize":12.7,"fill":"#4fb2e3"},"encoding":{"text":{"field":"label"}}},
{"data":{"values":[{"label":"published on TradingView.com, September 23, 2019 17:20:19 EEST","bar":-2.88,"price":11416},{"label":"9915.0","bar":2.91,"price":11359},{"label":"−265.0 (−2.6%)","bar":7.68,"price":11359},{"label":"Created with","bar":-7.42,"price":9041}]},"mark":{"type":"text","align":"left","baseline":"middle","font":"Lato","fontSize":12.7,"fill":"#222222"},"encoding":{"text":{"field":"label"}}},
{"data":{"values":[{"label":"CME_DL:BTC1!, 240","bar":-7.42,"price":11359},{"label":"O:","bar":15.48,"price":11359},{"label":"H:","bar":20.51,"price":11359},{"label":"L:","bar":25.37,"price":11359},{"label":"C:","bar":30.05,"price":11359}]},"mark":{"type":"text","align":"left","baseline":"middle","font":"Lato","fontWeight":"bold","fontSize":12.3,"fill":"#111111"},"encoding":{"text":{"field":"label"}}},
{"data":{"values":[{"label":"9915.0","bar":16.7,"price":11359},{"label":"9915.0","bar":21.64,"price":11359},{"label":"9905.0","bar":26.41,"price":11359},{"label":"9915.0","bar":31.09,"price":11359}]},"mark":{"type":"text","align":"left","baseline":"middle","font":"Lato","fontSize":12.7,"fill":"#a11b1b"},"encoding":{"text":{"field":"label"}}},
{"data":{"values":[{"label":"▼","bar":6.55,"price":11359}]},"mark":{"type":"text","align":"left","baseline":"middle","font":"DejaVu Sans","fontSize":13,"fill":"#8b0000"},"encoding":{"text":{"field":"label"}}},
{"data":{"values":[{"label":"TradingView","bar":1.35,"price":9041}]},"mark":{"type":"text","align":"left","baseline":"middle","font":"Lato","fontSize":13,"fill":"#5bb7e6"},"encoding":{"text":{"field":"label"}}},
{"data":{"values":[{"bar":0.2,"price":9041}]},"mark":{"type":"point","filled":true,"fill":"#5bb7e6","opacity":1,"size":520,"shape":"M-1 .6 L-.5 -.35 L-.05 -.05 L.3 -.65 L1 .3 L.55 .6 Z"}}
]
}
